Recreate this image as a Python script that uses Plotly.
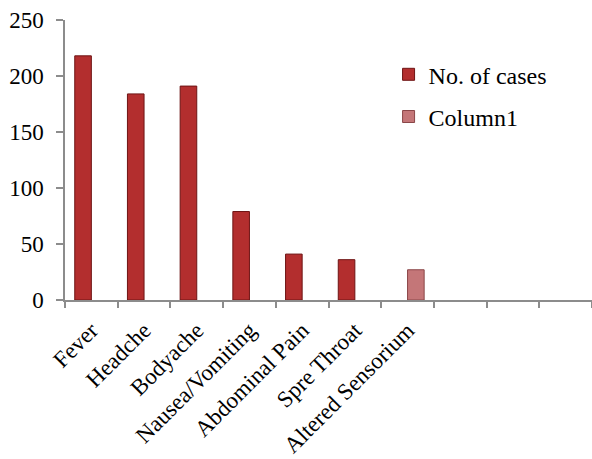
import plotly.graph_objects as go

categories = ["Fever", "Headche", "Bodyache", "Nausea/Vomiting", "Abdominal Pain",
              "Spre Throat", "Altered Sensorium", " ", "  ", "   "]
cases_cats = ["Fever", "Headche", "Bodyache", "Nausea/Vomiting", "Abdominal Pain", "Spre Throat"]
cases_vals = [218, 184, 191, 79, 41, 36]
col1_cats = ["Altered Sensorium"]
col1_vals = [27]
y_ticks = [0, 50, 100, 150, 200, 250]

FONT = "Liberation Serif"

fig = go.Figure()
fig.add_trace(go.Bar(
    x=cases_cats, y=cases_vals, name="No. of cases",
    marker=dict(color="#B32E2E", line=dict(color="#6E1414", width=1)),
    offsetgroup="a", legendgroup="a",
))
fig.add_trace(go.Bar(
    x=col1_cats, y=col1_vals, name="Column1",
    marker=dict(color="#C47678", line=dict(color="#8A4648", width=1)),
    offsetgroup="b", legendgroup="b",
))

fig.update_layout(
    width=592, height=459,
    margin=dict(l=65, r=0, t=20, b=159),
    paper_bgcolor="white", plot_bgcolor="white",
    barmode="group", bargap=0.37,
    font=dict(family=FONT, size=22, color="black"),
    showlegend=True,
    legend=dict(x=0.614, y=0.885, xanchor="left", yanchor="top",
                font=dict(family=FONT, size=24, color="black"),
                traceorder="grouped", tracegroupgap=8,
                itemwidth=30,
                bgcolor="rgba(0,0,0,0)"),
    xaxis=dict(
        type="category", categoryorder="array", categoryarray=categories,
        range=[-0.5, len(categories) - 0.5],
        tickmode="array", tickvals=categories, ticktext=categories,
        tickson="boundaries", ticks="outside", ticklen=6, tickcolor="#8C8C8C", tickwidth=1.5,
        showline=True, linecolor="#8C8C8C", linewidth=1.5,
        showgrid=False, tickangle=-45,
        tickfont=dict(family=FONT, size=23, color="black"),
        ticklabelstandoff=6,
    ),
    yaxis=dict(
        range=[0, 250], tickvals=y_ticks,
        ticks="outside", ticklen=7, tickcolor="#8C8C8C", tickwidth=1.5,
        showline=True, linecolor="#8C8C8C", linewidth=1.5,
        showgrid=False, zeroline=False,
        tickfont=dict(family=FONT, size=23, color="black"),
        ticklabelstandoff=8,
    ),
)

fig.write_html("out.html")
